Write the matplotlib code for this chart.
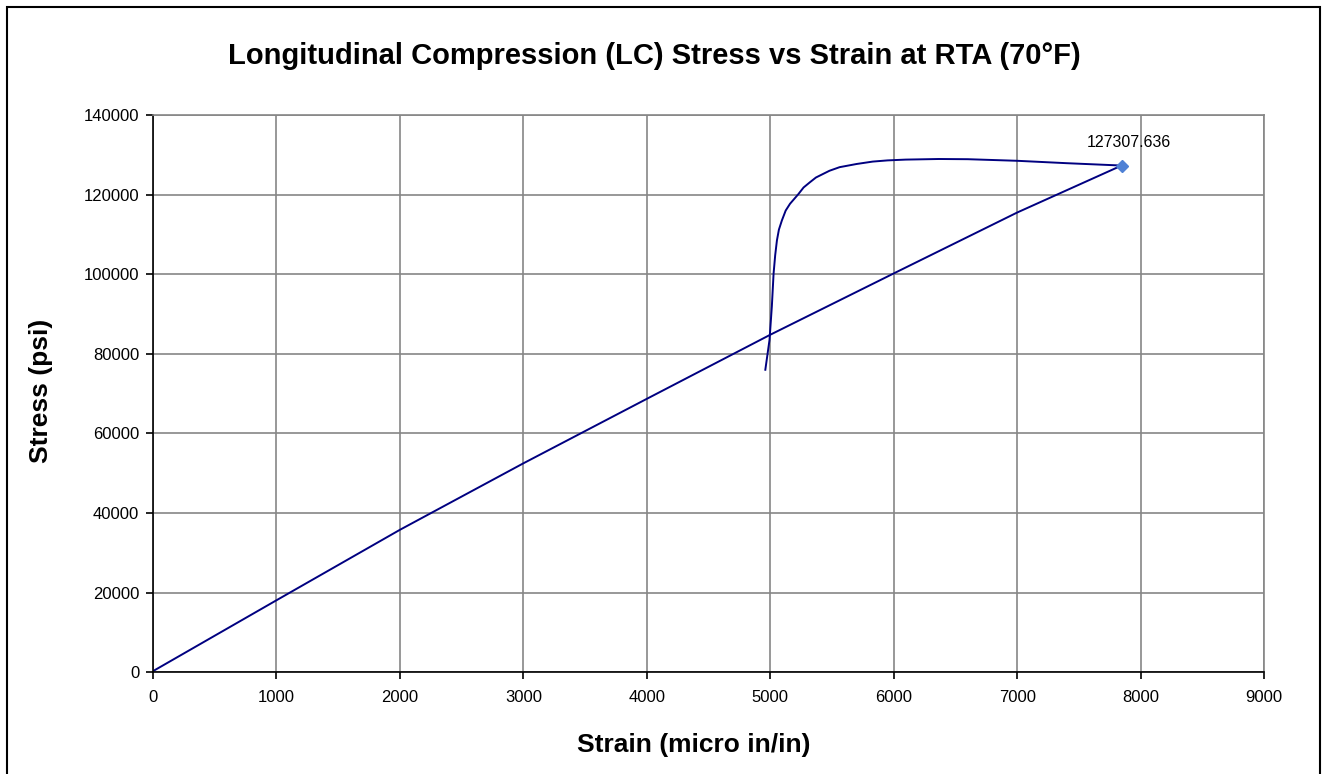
import matplotlib
matplotlib.use('Agg')
import matplotlib.pyplot as plt
from matplotlib.patches import Rectangle

# loading branch: from the end of the test back to the origin
strain_load = [0, 1000, 2000, 3000, 4000, 5000, 6000, 7000, 7846]
stress_load = [300, 18100, 35800, 52500, 68700, 84800, 100200, 115500, 127307.636]

# yield branch
strain_yield = [4960, 4994, 5013, 5027, 5040, 5054, 5070, 5094, 5125, 5160, 5227, 5270,
                5321, 5370, 5428, 5480, 5562, 5700, 5830, 5950, 6098, 6365, 6600, 7000,
                7400, 7846]
stress_yield = [76000, 83500, 92000, 100200, 104800, 108500, 111200, 113500, 116000,
                117700, 120100, 121800, 123100, 124300, 125200, 126000, 126900, 127700,
                128300, 128600, 128800, 128950, 128900, 128500, 127900, 127307.636]

last_x, last_y = 7846, 127307.636

plt.rcParams['font.family'] = ['Liberation Sans', 'DejaVu Sans']

fig = plt.figure(figsize=(13.24, 7.74), dpi=100)
ax = fig.add_axes([0.1156, 0.1314, 0.8391, 0.72])

grid_col = '#868686'
ax.plot(strain_yield, stress_yield, color='#000080', lw=1.4)
ax.plot(strain_load, stress_load, color='#000080', lw=1.4)
ax.plot([last_x], [last_y], marker='D', color='#4F81D5', ms=6, ls='none')
ax.annotate('%.3f' % last_y, (last_x, last_y), xytext=(5, 11), textcoords='offset points',
            ha='center', va='bottom', fontsize=11.5)

ax.set_xlim(0, 9000)
ax.set_ylim(0, 140000)
ax.set_xticks(range(0, 9001, 1000))
ax.set_yticks(range(0, 140001, 20000))
ax.grid(True, color=grid_col, lw=1.2)
ax.set_axisbelow(True)
for s in ('top', 'right'):
    ax.spines[s].set_color(grid_col)
    ax.spines[s].set_linewidth(1.2)
for s in ('left', 'bottom'):
    ax.spines[s].set_color('black')
    ax.spines[s].set_linewidth(1.2)
ax.tick_params(direction='out', length=5, width=1.2, labelsize=12)
ax.tick_params(axis='x', pad=8)
ax.tick_params(axis='y', pad=5)

fig.text(0.524, 0.0375, 'Strain (micro in/in)', ha='center', va='center',
         fontsize=19, fontweight='bold')
fig.text(0.031, 0.495, 'Stress (psi)', ha='center', va='center', rotation=90,
         fontsize=19, fontweight='bold')
fig.text(0.494, 0.928, 'Longitudinal Compression (LC) Stress vs Strain at RTA (70°F)',
         ha='center', va='center', fontsize=21, fontweight='bold')

fig.patches.append(Rectangle((7 / 1324, -0.05), 1313 / 1324, 1.05 - 7 / 774,
                             transform=fig.transFigure, fill=False, edgecolor='black', lw=1.5))

fig.savefig('out.png', dpi=100)
